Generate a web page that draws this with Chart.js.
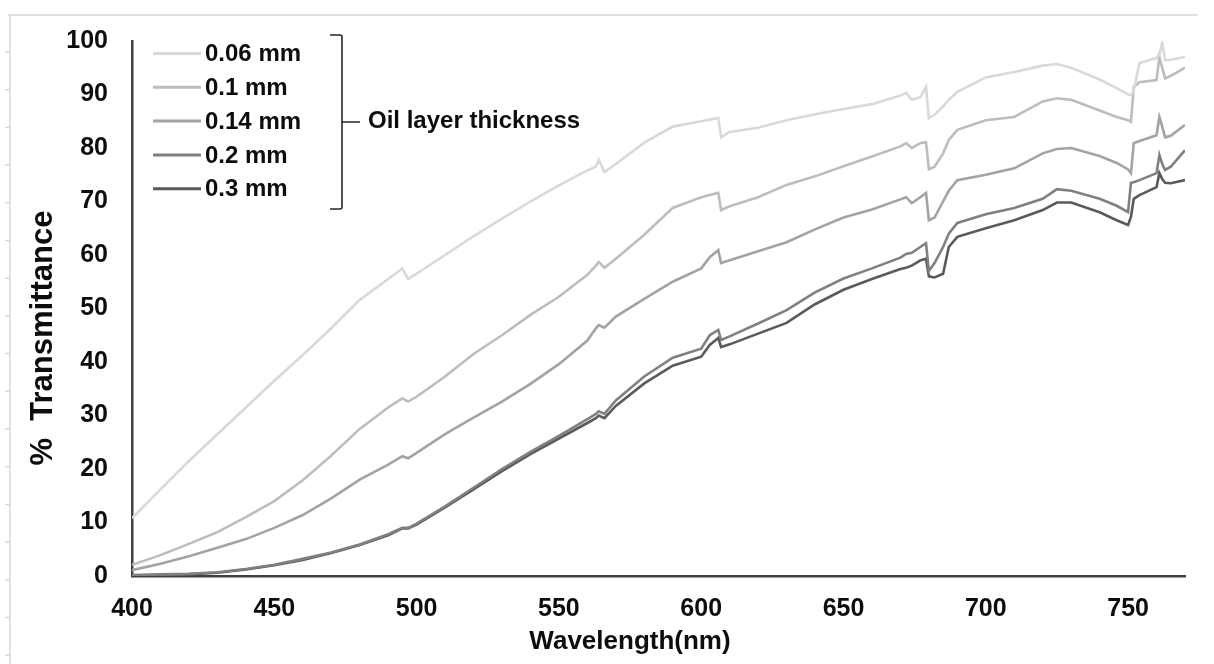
<!DOCTYPE html>
<html>
<head>
<meta charset="utf-8">
<script src="https://cdn.jsdelivr.net/npm/chart.js@4.4.0/dist/chart.umd.min.js"></script>
<style>
  html, body { margin: 0; padding: 0; background: #fff; }
  canvas { display: block; }
</style>
</head>
<body>
<canvas id="chart" width="1214" height="664"></canvas>
<script>
// wavelength (nm) shared by all five curves
const wavelengths = [
  400, 410, 420, 430, 440, 450, 460, 470, 480, 490,
  495, 497, 500,
  510, 520, 530, 540, 550, 560,
  563, 564, 566, 570,
  580, 590, 600,
  603, 606, 607, 610,
  620, 630, 640, 650, 660, 670,
  672, 674, 677, 679, 680, 682, 685, 687, 690,
  700, 710, 720, 725, 730, 740, 746, 750,
  751, 752, 754, 760, 761, 762, 763, 765, 770
];

// % transmittance per oil layer thickness
const t006 = [
  10.8, 16.2, 21.5, 26.5, 31.5, 36.5, 41.3, 46.3, 51.6, 55.5,
  57.5, 55.5, 56.5,
  60, 63.5, 66.8, 70, 73, 75.8,
  76.5, 77.8, 75.5, 77,
  81, 84, 85,
  85.3, 85.6, 82, 83,
  83.8, 85.2, 86.3, 87.3, 88.2, 89.8,
  90.3, 89, 89.5, 91.4, 85.6, 86.2, 87.8, 89, 90.5,
  93.2, 94.2, 95.4, 95.7, 95, 92.8, 91.2, 90,
  89.9, 90.8, 95.9, 96.8, 97.5, 99.6, 96.4, 96.5, 97
];
const t01 = [
  2.1, 3.9, 6, 8.2, 11, 14, 17.9, 22.5, 27.5, 31.5,
  33.2, 32.6, 33.5,
  37.3, 41.5, 45, 48.8, 52.2, 56.3,
  58, 58.7, 57.6, 59.3,
  63.8, 68.8, 70.8,
  71.2, 71.6, 68.4, 69.1,
  70.8, 73.1, 74.7, 76.6, 78.4, 80.3,
  80.9, 80, 80.9, 81.1, 76, 76.5, 79, 81.5, 83.4,
  85.2, 85.8, 88.7, 89.3, 89, 87, 85.8, 85.2,
  84.9, 91.4, 92.3, 92.7, 97, 95, 93, 93.5, 95
];
const t014 = [
  1.1, 2.3, 3.7, 5.3, 6.9, 9, 11.4, 14.5, 18, 20.8,
  22.4, 22, 23,
  26.5, 29.6, 32.6, 35.9, 39.6, 44,
  46.3, 46.9, 46.4, 48.5,
  51.8, 55, 57.5,
  59.6, 60.9, 58.5, 59,
  60.7, 62.4, 64.8, 67, 68.5, 70.4,
  70.8, 69.7, 70.8, 71.6, 66.5, 67, 70, 72, 74,
  75, 76.2, 79, 79.8, 80, 78.5, 77.2, 76,
  75.3, 80.9, 81.3, 82.4, 85.8, 84, 82, 82.3, 84.3
];
const t02 = [
  0.2, 0.3, 0.4, 0.7, 1.3, 2.1, 3.2, 4.4, 5.9, 7.8,
  9, 9, 9.8,
  13, 16.5, 20, 23.2, 26.2, 29.3,
  30.3, 30.8, 30.3, 32.8,
  37.3, 40.8, 42.5,
  45, 46, 44.1, 44.8,
  47.2, 49.7, 53, 55.6, 57.5, 59.5,
  60.2, 60.4, 61.5, 62.2, 57, 58.5, 61.5, 64, 66,
  67.6, 68.8, 70.5, 72.3, 72, 70.5, 69.2, 68,
  73.5, 73.6, 74, 75.3, 78.7, 77, 75.9, 76.5, 79.6
];
const t03 = [
  0.1, 0.2, 0.3, 0.6, 1.2, 2, 3, 4.3, 5.8, 7.6,
  8.9, 8.9, 9.6,
  12.8, 16.2, 19.6, 22.8, 25.7, 28.6,
  29.5, 30, 29.5, 31.8,
  36, 39.3, 41,
  43.2, 44.5, 42.8, 43.3,
  45.3, 47.3, 50.8, 53.5, 55.5, 57.4,
  57.6, 58, 59, 59.3, 56, 55.8, 56.5, 61.5, 63.4,
  65, 66.5, 68.4, 69.8, 69.8, 68, 66.5, 65.6,
  67.1, 70.5, 71.2, 72.7, 75.3, 74.2, 73.5, 73.4, 74
];

const seriesLabels = ['0.06 mm', '0.1 mm', '0.14 mm', '0.2 mm', '0.3 mm'];
const seriesValues = [t006, t01, t014, t02, t03];
const xTicks = [400, 450, 500, 550, 600, 650, 700, 750];

const lineColors = ['#d9d9d9', '#bdbdbd', '#a3a3a3', '#808080', '#5a5a5a'];
const bold = size => ({ family: "'Liberation Sans', Arial, sans-serif", size: size, weight: 'bold' });

// legend, bracket, axis titles and the light outer frame
const overlay = {
  id: 'overlay',
  beforeDraw(chart) {
    const ctx = chart.ctx;
    ctx.save();
    ctx.strokeStyle = '#d9d9d9';
    ctx.lineWidth = 1.5;
    ctx.beginPath();
    ctx.moveTo(8, 15);
    ctx.lineTo(1198, 15);
    ctx.moveTo(10, 15);
    ctx.lineTo(10, 664);
    for (let y = 52; y < 664; y += 37.7) {
      ctx.moveTo(5, y);
      ctx.lineTo(10, y);
    }
    ctx.stroke();
    ctx.restore();
  },
  afterDraw(chart) {
    const ctx = chart.ctx;
    ctx.save();
    ctx.fillStyle = '#0d0d0d';
    ctx.textBaseline = 'middle';

    // legend
    ctx.font = "bold 24px 'Liberation Sans', Arial, sans-serif";
    chart.data.datasets.forEach((ds, i) => {
      const y = 53.5 + i * 33.8;
      ctx.strokeStyle = ds.borderColor;
      ctx.lineWidth = 3;
      ctx.beginPath();
      ctx.moveTo(153, y);
      ctx.lineTo(201, y);
      ctx.stroke();
      ctx.textAlign = 'left';
      ctx.fillText(ds.label, 205, y + 1);
    });

    // bracket
    ctx.strokeStyle = '#262626';
    ctx.lineWidth = 1.6;
    ctx.beginPath();
    ctx.moveTo(330, 35);
    ctx.lineTo(340, 35);
    ctx.quadraticCurveTo(342, 35, 342, 37);
    ctx.lineTo(342, 207);
    ctx.quadraticCurveTo(342, 209, 340, 209);
    ctx.lineTo(330, 209);
    ctx.moveTo(342, 122);
    ctx.lineTo(360, 122);
    ctx.stroke();
    ctx.fillText('Oil layer thickness', 368, 121);

    // axis titles
    ctx.font = "bold 26px 'Liberation Sans', Arial, sans-serif";
    ctx.textAlign = 'center';
    ctx.fillText('Wavelength(nm)', 630, 642);

    ctx.translate(43, 338);
    ctx.rotate(-Math.PI / 2);
    ctx.font = "bold 31px 'Liberation Sans', Arial, sans-serif";
    ctx.fillText('%  Transmittance', 0, 0);
    ctx.restore();
  }
};

new Chart(document.getElementById('chart'), {
  type: 'line',
  data: {
    datasets: seriesLabels.map((label, i) => ({
      label: label,
      data: wavelengths.map((w, j) => ({ x: w, y: seriesValues[i][j] })),
      borderColor: lineColors[i],
      borderWidth: 2.6,
      pointRadius: 0,
      tension: 0,
      fill: false
    }))
  },
  options: {
    responsive: false,
    animation: false,
    layout: { padding: { left: 0, right: 29, top: 41, bottom: 0 } },
    plugins: {
      legend: { display: false },
      tooltip: { enabled: false }
    },
    scales: {
      x: {
        type: 'linear',
        min: 400,
        max: 770,
        afterBuildTicks: scale => { scale.ticks = xTicks.map(v => ({ value: v })); },
        afterFit: scale => { scale.height = 88; },
        grid: { display: false, drawTicks: false },
        border: { display: true, color: '#404040', width: 2.5 },
        ticks: {
          autoSkip: false,
          maxRotation: 0,
          padding: 18,
          color: '#0d0d0d',
          font: bold(25)
        }
      },
      y: {
        min: 0,
        max: 100,
        afterFit: scale => { scale.width = 132; },
        grid: { display: false, drawTicks: false },
        border: { display: true, color: '#404040', width: 2.5 },
        ticks: {
          stepSize: 10,
          padding: 24,
          color: '#0d0d0d',
          font: bold(25)
        }
      }
    }
  },
  plugins: [overlay]
});
</script>
</body>
</html>
